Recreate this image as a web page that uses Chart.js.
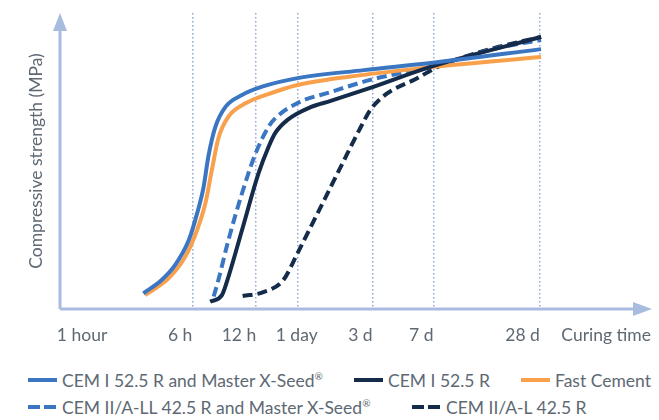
<!DOCTYPE html>
<html>
<head>
<meta charset="utf-8">
<script src="https://cdn.jsdelivr.net/npm/chart.js@4.4.1/dist/chart.umd.min.js"></script>
<style>
  body { margin: 0; background: #fff; font-family: Lato, "Open Sans", sans-serif; }
  #wrap { position: relative; width: 659px; height: 420px; }
  #box { position: absolute; left: 0; top: 0; width: 659px; height: 360px; }
  .leg { position: absolute; display: flex; align-items: center; font-size: 17.5px; color: #5e6973; white-space: nowrap; }
  .leg svg { margin-right: 5px; }
  .leg sup { font-size: 10px; }
</style>
</head>
<body>
<div id="wrap">
  <div id="box"><canvas id="grafico"></canvas></div>
  <div id="legend"></div>
</div>
<script>
// Eje X: posiciones relativas (0..100) de las marcas de tiempo en el dibujo
const gridTicks = [22.4, 33.2, 40.3, 52.9, 63.2, 81.2];
const labelTicks = [8.0, 22.4, 33.2, 43.6, 52.9, 63.2, 81.2, 100];
const tickLabels = ['1 hour', '6 h', '12 h', '1 day', '3 d', '7 d', '28 d', 'Curing time'];

// Series (x = tiempo en la escala del dibujo, y = resistencia relativa)
const seedCemI_x = [14.1, 17.2, 19.5, 21.8, 23.2, 24.3, 25.1, 26.3, 28.0, 30.8, 34.2, 40.2, 51.4, 62.7, 81.4];
const seedCemI_y = [5.3, 9.8, 14.9, 23.3, 32.3, 41.3, 51.5, 61.6, 68.3, 72.3, 75.1, 78.0, 80.7, 83.1, 87.8];

const cemI_x = [25.4, 27.4, 28.5, 30.8, 33.6, 35.3, 36.4, 38.5, 42.4, 45.8, 52.5, 62.7, 81.4];
const cemI_y = [2.5, 4.7, 10.9, 26.7, 45.9, 54.8, 59.4, 63.9, 68.2, 70.3, 74.7, 81.8, 91.9];

const fast_x = [14.4, 18.4, 21.2, 23.2, 24.6, 25.7, 26.8, 28.5, 31.4, 36.4, 40.2, 51.4, 63.2, 81.4];
const fast_y = [4.7, 10.4, 17.7, 26.7, 35.7, 47.0, 57.7, 65.0, 69.5, 73.4, 75.7, 79.1, 81.8, 85.1];

const seedCemII_x = [26.0, 26.8, 28.5, 30.8, 33.1, 35.3, 36.4, 40.2, 45.8, 52.5, 62.7, 74.1, 81.4];
const seedCemII_y = [4.2, 9.8, 23.3, 39.1, 52.6, 61.6, 64.4, 69.6, 73.3, 77.4, 81.8, 88.2, 90.9];

const cemII_x = [30.9, 34.4, 37.8, 40.2, 43.6, 47.5, 50.9, 52.5, 54.2, 56.3, 60.2, 63.9, 68.3, 74.1, 81.4];
const cemII_y = [4.4, 5.7, 9.8, 18.9, 32.4, 48.0, 61.5, 67.2, 71.0, 74.0, 77.7, 81.8, 85.1, 88.5, 91.9];

const toPoints = (xs, ys) => xs.map((x, i) => ({ x: x, y: ys[i] }));

const series = [
  { label: 'CEM I 52.5 R and Master X-Seed®', data: toPoints(seedCemI_x, seedCemI_y), color: '#3a76c2', dash: [] },
  { label: 'CEM I 52.5 R', data: toPoints(cemI_x, cemI_y), color: '#142b4a', dash: [] },
  { label: 'Fast Cement', data: toPoints(fast_x, fast_y), color: '#f9a04c', dash: [] },
  { label: 'CEM II/A-LL 42.5 R and Master X-Seed®', data: toPoints(seedCemII_x, seedCemII_y), color: '#3a76c2', dash: [10, 5] },
  { label: 'CEM II/A-L 42.5 R', data: toPoints(cemII_x, cemII_y), color: '#142b4a', dash: [10, 5] },
];

const axisColor = '#a8bce0';
const textColor = '#5e6973';
const fuente = { family: 'Lato', size: 17.5 };

// Ejes con flechas
const flechas = {
  id: 'flechas',
  beforeDatasetsDraw(chart) {
    const { ctx, chartArea: a } = chart;
    ctx.save();
    ctx.strokeStyle = axisColor;
    ctx.fillStyle = axisColor;
    ctx.lineWidth = 3;
    ctx.beginPath();
    ctx.moveTo(a.left, a.bottom);
    ctx.lineTo(a.left, a.top + 16);
    ctx.moveTo(a.left, a.bottom);
    ctx.lineTo(a.right - 16, a.bottom);
    ctx.stroke();
    ctx.beginPath();
    ctx.moveTo(a.left, a.top);
    ctx.lineTo(a.left - 7, a.top + 18);
    ctx.lineTo(a.left + 7, a.top + 18);
    ctx.closePath();
    ctx.fill();
    ctx.beginPath();
    ctx.moveTo(a.right + 1, a.bottom);
    ctx.lineTo(a.right - 18, a.bottom - 7);
    ctx.lineTo(a.right - 18, a.bottom + 7);
    ctx.closePath();
    ctx.fill();
    ctx.restore();
  }
};

new Chart(document.getElementById('grafico'), {
  type: 'line',
  data: {
    datasets: series.map(s => ({
      label: s.label,
      data: s.data,
      borderColor: s.color,
      borderWidth: 4,
      borderDash: s.dash,
      pointRadius: 0,
      fill: false,
      cubicInterpolationMode: 'monotone',
    })),
  },
  options: {
    responsive: true,
    maintainAspectRatio: false,
    animation: false,
    layout: { padding: { top: 13, right: 8, bottom: 0, left: 0 } },
    plugins: { legend: { display: false }, tooltip: { enabled: false } },
    scales: {
      x: {
        type: 'linear',
        position: 'bottom',
        min: 0,
        max: 100,
        afterBuildTicks: s => { s.ticks = gridTicks.map(v => ({ value: v })); },
        afterFit: s => { s.height = 0; },
        ticks: { display: false },
        grid: { color: '#8fa8da', lineWidth: 1.5, drawTicks: false },
        border: { display: false, dash: [1.5, 2.5] },
      },
      xl: {
        type: 'linear',
        position: 'bottom',
        min: 0,
        max: 100,
        afterBuildTicks: s => { s.ticks = labelTicks.map(v => ({ value: v })); },
        afterFit: s => { s.height = 51; },
        grid: { display: false },
        border: { display: false },
        ticks: {
          align: 'end',
          autoSkip: false,
          maxRotation: 0,
          padding: 8,
          color: textColor,
          font: fuente,
          callback: (v, i) => tickLabels[i],
        },
      },
      y: {
        min: 0,
        max: 100,
        afterFit: s => { s.width = 60; },
        ticks: { display: false },
        grid: { display: false },
        border: { display: false },
        title: {
          display: true,
          text: 'Compressive strength (MPa)',
          color: textColor,
          font: fuente,
          padding: { top: 26, bottom: 0 },
        },
      },
    },
  },
  plugins: [flechas],
});

// Leyenda en HTML (dos filas como en el original)
const legendPos = [[28, 380], [354, 380], [521, 380], [28, 407], [412, 407]];
const legend = document.getElementById('legend');
series.forEach((s, i) => {
  const item = document.createElement('div');
  item.className = 'leg';
  item.style.left = legendPos[i][0] + 'px';
  item.style.top = (legendPos[i][1] - 11) + 'px';
  item.style.height = '22px';
  const dash = s.dash.length ? 'stroke-dasharray="12 4"' : '';
  const text = s.label.replace('®', '<sup>®</sup>');
  item.innerHTML = '<svg width="29" height="4"><line x1="0" y1="2" x2="29" y2="2" stroke="' + s.color +
    '" stroke-width="4" ' + dash + '/></svg><span>' + text + '</span>';
  legend.appendChild(item);
});
</script>
</body>
</html>
